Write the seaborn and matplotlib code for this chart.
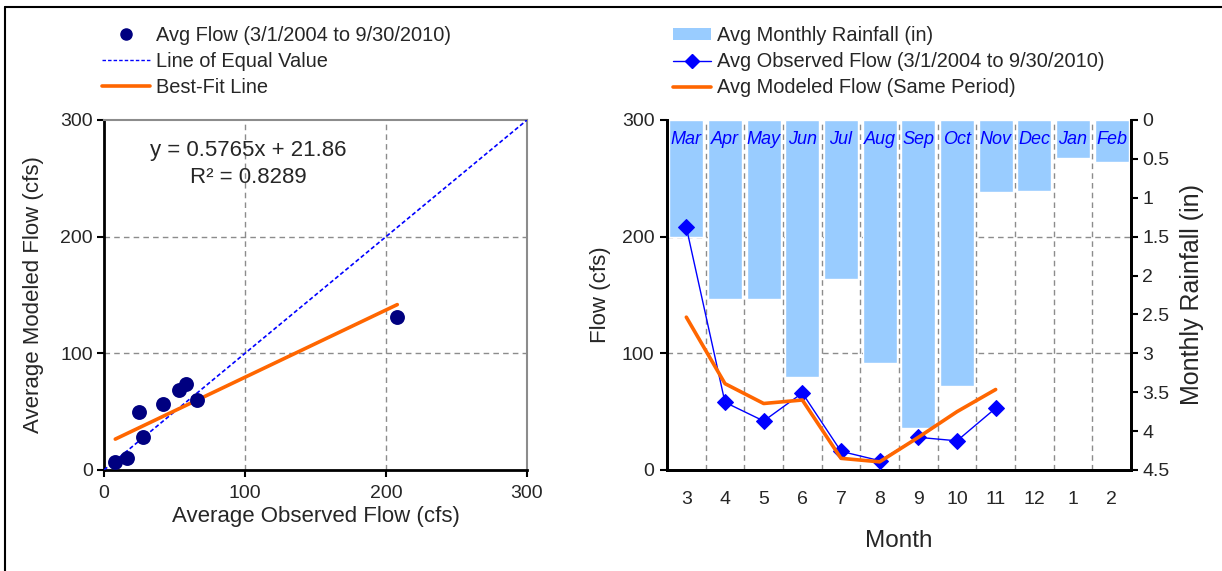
import numpy as np
import pandas as pd
import matplotlib
matplotlib.use("Agg")
import matplotlib.pyplot as plt
import matplotlib.lines as mlines
import matplotlib.patches as mpatches
from matplotlib.ticker import FuncFormatter
import seaborn as sns

sns.set_theme(style="white")
plt.rcParams['font.family'] = ['Liberation Sans', 'DejaVu Sans']

# ---------------- data ----------------
flow_months = ["Mar", "Apr", "May", "Jun", "Jul", "Aug", "Sep", "Oct", "Nov"]
observed_flow = [208, 58, 42, 66, 16, 8, 28, 25, 53]
modeled_flow = [131, 74, 57, 60, 10, 7, 28, 50, 69]

rain_months = ["Mar", "Apr", "May", "Jun", "Jul", "Aug", "Sep", "Oct", "Nov", "Dec", "Jan", "Feb"]
month_numbers = ["3", "4", "5", "6", "7", "8", "9", "10", "11", "12", "1", "2"]
rainfall_in = [1.50, 2.30, 2.30, 3.30, 2.05, 3.13, 3.96, 3.42, 0.93, 0.91, 0.49, 0.54]

fit_slope = 0.5765
fit_intercept = 21.86
fit_r2 = 0.8289

flow_ticks = [0, 100, 200, 300]
rain_ticks = [0, 0.5, 1, 1.5, 2, 2.5, 3, 3.5, 4, 4.5]

# ---------------- styling ----------------
W, H = 1222, 571
fig = plt.figure(figsize=(W / 100, H / 100), dpi=100)

NAVY = "#000080"
BLUE = "#0000FF"
ORANGE = "#FF6600"
BARC = "#99CCFF"
GRID = "#8c8c8c"
TICK_FS = 14
LAB_FS = 16
LEG_FS = 14.4

def fx(px):
    return px / W

def fy(py):
    return 1 - py / H

# figure frame (top and left edges)
fig.add_artist(mlines.Line2D([fx(5), 1], [fy(7), fy(7)], color="black", lw=1.5))
fig.add_artist(mlines.Line2D([fx(5), fx(5)], [0, fy(7)], color="black", lw=1.5))

# ================= left: scatter =================
axL = fig.add_axes([fx(104), fy(470), fx(527) - fx(104), fy(120) - fy(470)])
df_sc = pd.DataFrame({"obs": observed_flow, "mod": modeled_flow})

eq_x = np.array([0, 300])
sns.lineplot(x=eq_x, y=eq_x, ax=axL, color=BLUE, lw=1.2, linestyle=(0, (2.5, 1.5)), zorder=3)
fit_x = np.array([min(observed_flow), max(observed_flow)])
sns.lineplot(x=fit_x, y=fit_slope * fit_x + fit_intercept, ax=axL, color=ORANGE, lw=2.6, zorder=4)
sns.scatterplot(data=df_sc, x="obs", y="mod", ax=axL, color=NAVY, s=115, edgecolor=NAVY, linewidth=0, zorder=5)

axL.set_xlim(0, 300)
axL.set_ylim(0, 300)
axL.set_xticks(flow_ticks)
axL.set_yticks(flow_ticks)
for v in flow_ticks[1:-1]:
    axL.axhline(v, color=GRID, lw=1.0, ls=(0, (4, 3)), zorder=1)
    axL.axvline(v, color=GRID, lw=1.0, ls=(0, (4, 3)), zorder=1)
for s in ["left", "bottom"]:
    axL.spines[s].set_color("black")
    axL.spines[s].set_linewidth(2)
for s in ["top", "right"]:
    axL.spines[s].set_color(GRID)
    axL.spines[s].set_linewidth(1.5)
axL.tick_params(axis="both", direction="out", length=5, width=1.5, color="black",
                labelsize=TICK_FS, pad=3, left=True, bottom=True)
axL.tick_params(axis="x", pad=6)
axL.set_xlabel("Average Observed Flow (cfs)", fontsize=LAB_FS, labelpad=3)
axL.set_ylabel("Average Modeled Flow (cfs)", fontsize=LAB_FS, labelpad=12)
axL.text(0.34, 0.914, f"y = {fit_slope}x + {fit_intercept}", transform=axL.transAxes,
         ha="center", va="center", fontsize=16)
axL.text(0.34, 0.837, f"R² = {fit_r2}", transform=axL.transAxes,
         ha="center", va="center", fontsize=16)

legL_handles = [
    mlines.Line2D([], [], color=NAVY, marker="o", ls="none", markersize=8),
    mlines.Line2D([], [], color=BLUE, lw=1.0, ls=(0, (2.5, 1.5))),
    mlines.Line2D([], [], color=ORANGE, lw=2.6),
]
legL_labels = ["Avg Flow (3/1/2004 to 9/30/2010)", "Line of Equal Value", "Best-Fit Line"]
fig.legend(legL_handles, legL_labels, loc="upper left", bbox_to_anchor=(fx(102), fy(26)),
           frameon=False, fontsize=LEG_FS, handlelength=2.4, handletextpad=0.3,
           labelspacing=0.36, borderpad=0, borderaxespad=0)

# ================= right: monthly =================
axR = fig.add_axes([fx(667), fy(470), fx(1131) - fx(667), fy(120) - fy(470)])
axB = axR.twinx()

df_rain = pd.DataFrame({"month": rain_months, "rain": rainfall_in})
sns.barplot(data=df_rain, x="month", y="rain", ax=axB, color=BARC, width=0.88,
            saturation=1, order=rain_months, zorder=2)
axB.set_ylim(4.5, 0)
axB.set_yticks(rain_ticks)
axB.yaxis.set_major_formatter(FuncFormatter(lambda v, p: f"{v:g}"))
axB.set_ylabel("Monthly Rainfall (in)", fontsize=18)
axB.yaxis.set_label_coords(1.105, 0.5)
axB.set_xlabel("")

# gridlines behind bars, drawn on bar axes
for v in flow_ticks[1:-1]:
    axB.axhline(4.5 * (1 - v / 300), color=GRID, lw=1.0, ls=(0, (4, 3)), zorder=1)
for b in np.arange(len(rain_months) - 1) + 0.5:
    axB.axvline(b, color=GRID, lw=1.0, ls=(0, (4, 3)), zorder=1)

for i, m in enumerate(rain_months):
    axB.text(i, 0.943, m, transform=axB.get_xaxis_transform(), ha="center", va="center",
             fontsize=13, style="italic", color=BLUE, zorder=3)

axR.set_zorder(axB.get_zorder() + 1)
axR.patch.set_visible(False)

df_flow = pd.DataFrame({"pos": np.arange(len(flow_months)),
                        "obs": observed_flow, "mod": modeled_flow})
sns.lineplot(data=df_flow, x="pos", y="obs", ax=axR, color=BLUE, lw=1.0,
             marker="D", markersize=8, markeredgecolor=BLUE, zorder=4)
sns.lineplot(data=df_flow, x="pos", y="mod", ax=axR, color=ORANGE, lw=2.6, zorder=5)

axR.set_xlim(-0.5, len(rain_months) - 0.5)
axB.set_xlim(-0.5, len(rain_months) - 0.5)
axR.set_ylim(0, 300)
axR.set_yticks(flow_ticks)
axR.set_xticks(np.arange(len(rain_months)))
axR.set_xticklabels(month_numbers)
axR.set_xticks(np.arange(len(rain_months) + 1) - 0.5, minor=True)
axR.tick_params(axis="x", which="major", length=0, labelsize=TICK_FS, pad=15)
axR.tick_params(axis="x", which="minor", length=8, width=1.2, direction="inout", color="black")
axR.tick_params(axis="y", direction="out", length=5, width=1.5, color="black",
                labelsize=TICK_FS, left=True, pad=4)
axB.tick_params(axis="y", direction="out", length=5, width=1.5, color="black",
                labelsize=TICK_FS, right=True, pad=3)
axB.tick_params(axis="x", length=0, labelbottom=False)
axR.set_xlabel("Month", fontsize=17.5, labelpad=16)
axR.set_ylabel("Flow (cfs)", fontsize=LAB_FS, labelpad=8)

for ax in (axR, axB):
    for s in ["left", "bottom", "right"]:
        ax.spines[s].set_color("black")
        ax.spines[s].set_linewidth(2)
    ax.spines["top"].set_visible(False)

legR_handles = [
    mpatches.Patch(facecolor=BARC, edgecolor="none"),
    mlines.Line2D([], [], color=BLUE, lw=1.0, marker="D", markersize=7),
    mlines.Line2D([], [], color=ORANGE, lw=2.6),
]
legR_labels = ["Avg Monthly Rainfall (in)", "Avg Observed Flow (3/1/2004 to 9/30/2010)",
               "Avg Modeled Flow (Same Period)"]
fig.legend(legR_handles, legR_labels, loc="upper left", bbox_to_anchor=(fx(673), fy(26)),
           frameon=False, fontsize=LEG_FS, handlelength=1.9, handletextpad=0.3,
           labelspacing=0.36, borderpad=0, borderaxespad=0, handleheight=0.55)

fig.savefig("out.png", dpi=100)
